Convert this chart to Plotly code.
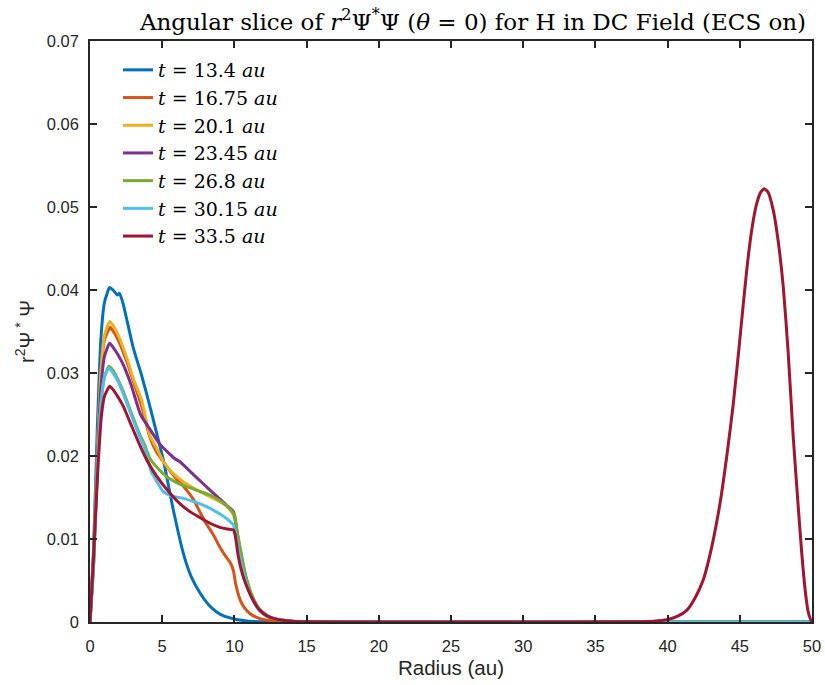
import plotly.graph_objects as go

labels = ["13.4", "16.75", "20.1", "23.45", "26.8", "30.15", "33.5"]
colors = ["#0072BD", "#D95319", "#EDB120", "#7E2F8E", "#77AC30", "#4DBEEE", "#A2142F"]

r_134 = [0, 0.25, 0.5, 0.75, 1.0, 1.36, 1.6, 1.89, 2.05, 2.3, 2.63, 3.0, 3.56, 4.16, 4.48, 5.08, 5.77, 6.46, 7.0, 7.62, 8.2, 8.77, 9.3, 9.93, 10.5, 11, 12, 15, 50]
v_134 = [0, 0.009, 0.023, 0.034, 0.0385, 0.0403, 0.0400, 0.0394, 0.0396, 0.0383, 0.0358, 0.0330, 0.0298, 0.0259, 0.0237, 0.0195, 0.0135, 0.0083, 0.0055, 0.0035, 0.0021, 0.0012, 0.0007, 0.0004, 0.0002, 0.0001, 0.00003, 0, 0]

r_1675 = [0, 0.25, 0.5, 0.75, 1.0, 1.4, 1.7, 2.0, 2.3, 2.63, 3.0, 3.56, 4.16, 4.6, 5.0, 5.54, 6.0, 6.5, 7.15, 7.6, 8.0, 8.54, 9.0, 9.4, 9.7, 9.93, 10.1, 10.39, 10.7, 11.08, 11.5, 12, 13, 15, 50]
v_1675 = [0, 0.008, 0.02, 0.03, 0.034, 0.0355, 0.0348, 0.0338, 0.0325, 0.031, 0.0290, 0.0261, 0.0222, 0.0205, 0.0195, 0.0182, 0.0172, 0.0163, 0.0148, 0.0133, 0.0120, 0.0105, 0.0090, 0.0079, 0.0072, 0.0062, 0.0045, 0.0027, 0.0017, 0.0010, 0.0006, 0.0003, 0.0001, 0, 0]

r_201 = [0, 0.25, 0.5, 0.75, 1.0, 1.36, 1.6, 1.94, 2.2, 2.63, 3.0, 3.56, 4.16, 4.6, 5.08, 5.7, 6.46, 7.2, 8.31, 9.0, 9.5, 9.93, 10.05, 10.2, 10.5, 10.8, 11.2, 11.7, 12.3, 13, 14, 15, 50]
v_201 = [0, 0.008, 0.02, 0.03, 0.0345, 0.0362, 0.0357, 0.0346, 0.0335, 0.0314, 0.0293, 0.0268, 0.0224, 0.0210, 0.0193, 0.0180, 0.0169, 0.0161, 0.0151, 0.0145, 0.0139, 0.0129, 0.0122, 0.0105, 0.0075, 0.0052, 0.0031, 0.0015, 0.0007, 0.0003, 0.0001, 0, 0]

r_2345 = [0, 0.25, 0.5, 0.75, 1.0, 1.36, 1.6, 1.94, 2.3, 2.86, 3.5, 4.16, 4.85, 5.86, 6.23, 7.2, 8.31, 9.0, 9.5, 9.93, 10.05, 10.2, 10.5, 10.8, 11.2, 11.7, 12.3, 13, 14, 15, 50]
v_2345 = [0, 0.007, 0.019, 0.028, 0.032, 0.0336, 0.0331, 0.0322, 0.0310, 0.0285, 0.0250, 0.0232, 0.0214, 0.0197, 0.0193, 0.0177, 0.0159, 0.0148, 0.0140, 0.0133, 0.0125, 0.0107, 0.0077, 0.0053, 0.0032, 0.0016, 0.0007, 0.0003, 0.0001, 0, 0]

r_268 = [0, 0.25, 0.5, 0.75, 1.0, 1.3, 1.6, 1.94, 2.3, 2.86, 3.4, 3.79, 4.16, 4.6, 5.31, 6.0, 6.69, 7.5, 8.31, 9.0, 9.5, 10.0, 10.16, 10.5, 10.8, 11.2, 11.7, 12.3, 13, 14, 15, 50]
v_268 = [0, 0.007, 0.018, 0.026, 0.0295, 0.0308, 0.0303, 0.0292, 0.0278, 0.0252, 0.0228, 0.0213, 0.0197, 0.0187, 0.0175, 0.0168, 0.0163, 0.0158, 0.0153, 0.0146, 0.0140, 0.0129, 0.0112, 0.0080, 0.0055, 0.0033, 0.0016, 0.0007, 0.0003, 0.0001, 0, 0]

r_3015 = [0, 0.25, 0.5, 0.75, 1.0, 1.29, 1.6, 1.94, 2.3, 2.86, 3.4, 3.79, 4.25, 4.6, 5.08, 5.6, 6.46, 7.2, 8.08, 9.0, 9.5, 9.93, 10.1, 10.4, 10.8, 11.2, 11.7, 12.3, 13, 14, 15, 50]
v_3015 = [0, 0.007, 0.018, 0.026, 0.0295, 0.0306, 0.0300, 0.0290, 0.0275, 0.0249, 0.0225, 0.0209, 0.0181, 0.0170, 0.0157, 0.0152, 0.0149, 0.0145, 0.0139, 0.0130, 0.0124, 0.0117, 0.0105, 0.0075, 0.0048, 0.0029, 0.0014, 0.0006, 0.0003, 0.0001, 0, 0]

r_335 = [0, 0.25, 0.55, 0.8, 1.0, 1.36, 1.6, 1.94, 2.3, 2.86, 3.4, 4.0, 4.6, 5.54, 6.2, 6.92, 7.6, 8.31, 9.0, 9.5, 9.93, 10.05, 10.27, 10.55, 10.85, 11.3, 11.77, 12.3, 13, 14, 15, 20, 30, 37, 39, 40, 40.7, 41.32, 41.9, 42.47, 43.05, 43.63, 44.1, 44.55, 45.0, 45.48, 45.85, 46.17, 46.45, 46.7, 46.95, 47.32, 47.65, 48.01, 48.35, 48.7, 49.0, 49.29, 49.55, 49.74, 49.9, 50]
v_335 = [0, 0.008, 0.0186, 0.025, 0.0272, 0.0284, 0.0280, 0.0271, 0.0260, 0.0237, 0.0215, 0.0193, 0.0176, 0.0155, 0.0143, 0.0133, 0.0126, 0.0119, 0.0114, 0.0112, 0.0111, 0.0105, 0.0079, 0.0058, 0.0043, 0.0026, 0.0014, 0.0007, 0.0003, 0.0001, 0.00003, 0, 0, 0.00002, 0.0001, 0.0003, 0.0007, 0.0014, 0.0029, 0.0051, 0.0090, 0.0143, 0.0200, 0.0263, 0.0340, 0.0424, 0.0475, 0.0504, 0.0518, 0.0522, 0.0518, 0.0496, 0.0460, 0.0404, 0.0325, 0.0223, 0.0150, 0.0083, 0.0035, 0.0012, 0.0003, 0]

series_r = [r_134, r_1675, r_201, r_2345, r_268, r_3015, r_335]
series_v = [v_134, v_1675, v_201, v_2345, v_268, v_3015, v_335]

x_ticks = [0, 5, 10, 15, 20, 25, 30, 35, 40, 45, 50]
y_ticks = [0, 0.01, 0.02, 0.03, 0.04, 0.05, 0.06, 0.07]
y_ticktext = ["0", "0.01", "0.02", "0.03", "0.04", "0.05", "0.06", "0.07"]

SANS = "Liberation Sans, Arial, Helvetica, sans-serif"
SERIF = "DejaVu Serif, serif"

fig = go.Figure()
for lab, col, rr, vv in zip(labels, colors, series_r, series_v):
    fig.add_trace(go.Scatter(
        x=rr, y=vv, mode="lines",
        line=dict(color=col, width=3, shape="spline", smoothing=0.5),
        name=f"<i>t</i> = {lab} <i>au</i>",
    ))

axis_common = dict(
    showline=True, linecolor="#262626", linewidth=1.5, mirror="ticks",
    ticks="inside", ticklen=7, tickwidth=1.5, tickcolor="#262626",
    showgrid=False, zeroline=False, automargin=False,
    tickfont=dict(family=SANS, size=16.5, color="#262626"),
)

fig.update_layout(
    width=825, height=685,
    margin=dict(l=90, r=13, t=41, b=63),
    paper_bgcolor="white", plot_bgcolor="white",
    title=dict(
        text="Angular slice of <i>r</i><sup>2</sup>Ψ<sup>*</sup>Ψ (<i>θ</i> = 0) for H in DC Field (ECS on)",
        x=473 / 825, xanchor="center", y=1 - 22 / 685, yanchor="middle",
        font=dict(family=SERIF, size=23, color="black"),
    ),
    xaxis=dict(axis_common, range=[0, 50], tickvals=x_ticks, ticklabelstandoff=8,
               title=dict(text="Radius (au)", standoff=7,
                          font=dict(family=SANS, size=20.5, color="#262626"))),
    yaxis=dict(axis_common, range=[0, 0.07], tickvals=y_ticks, ticktext=y_ticktext,
               ticklabelstandoff=6,
               title=dict(text="r<sup>2</sup>Ψ<sup> *</sup> Ψ", standoff=7,
                          font=dict(family=SANS, size=20, color="#262626"))),
    legend=dict(
        x=(118 - 90) / 722, y=(622 - 51) / 581, xanchor="left", yanchor="top",
        bgcolor="rgba(0,0,0,0)", borderwidth=0,
        font=dict(family=SERIF, size=19, color="black"),
        tracegroupgap=0,
    ),
    showlegend=True,
)

fig.write_html("out.html", config={"displayModeBar": False},
               post_script="document.body.style.margin='0';document.body.style.overflow='hidden';")
